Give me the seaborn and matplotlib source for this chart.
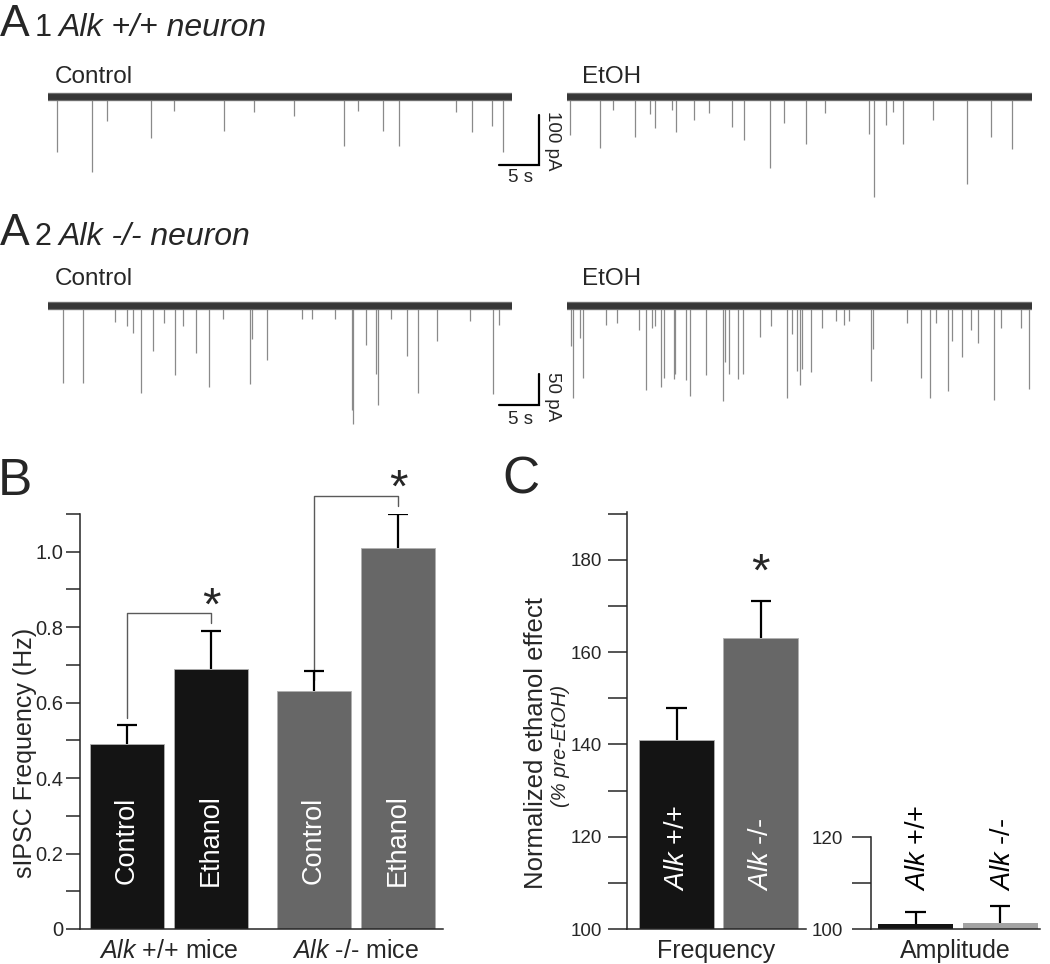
import matplotlib
matplotlib.use("Agg")
import matplotlib.pyplot as plt
import seaborn as sns
import pandas as pd
from matplotlib.ticker import MultipleLocator

# ---------------- data ----------------
# Example sIPSC traces: event times (s) and peak amplitudes (pA, downward)
a1_ctrl_t = [1.08, 5.54, 7.33, 12.83, 15.75, 22.04, 25.75, 30.79, 37.0, 38.79,
             41.92, 43.88, 50.96, 52.96, 55.46, 56.92]
a1_ctrl_amp = [110, 149, 47, 82, 27, 67, 29, 37, 97, 27, 67, 97, 29, 70, 57, 109]

a1_etoh_t = [0.38, 4.13, 5.71, 8.5, 10.38, 11.0, 13.08, 13.58, 15.88, 17.75,
             20.58, 22.04, 25.38, 27.04, 29.83, 32.13, 37.67, 38.29, 39.75, 40.71,
             41.96, 45.67, 49.88, 52.88, 55.5]
a1_etoh_amp = [76, 101, 25, 79, 33, 61, 26, 69, 46, 31,
               59, 86, 141, 51, 93, 31, 73, 199, 55, 29,
               94, 46, 173, 79, 103]

a2_ctrl_t = [1.83, 4.42, 8.38, 9.83, 10.58, 11.58, 13.17, 14.54, 15.88, 16.92,
             18.5, 20.17, 21.83, 25.25, 25.54, 27.33, 31.71, 32.96, 35.88, 37.96,
             38.17, 39.71, 41.0, 41.21, 42.83, 44.92, 46.21, 48.67, 52.75, 55.67, 56.38]
a2_ctrl_amp = [124, 124, 26, 32, 43, 141, 73, 27, 111, 33,
               76, 131, 21, 125, 54, 87, 21, 21, 21, 167,
               190, 63, 110, 159, 21, 80, 140, 56, 24, 142, 30]

a2_etoh_t = [0.46, 0.79, 1.63, 2.04, 4.88, 6.21, 8.92, 9.88, 10.58, 11.0,
             11.71, 12.04, 13.29, 13.5, 14.83, 15.38, 17.33, 19.42, 19.75, 20.17,
             21.29, 21.96, 24.13, 25.46, 27.38, 28.08, 28.63, 29.04, 29.33, 30.46,
             31.83, 33.5, 34.54, 35.17, 37.88, 38.21, 42.46, 44.13, 45.29, 46.0,
             47.54, 48.08, 49.21, 50.38, 51.21, 53.29, 54.13, 56.63, 57.67]
a2_etoh_amp = [65, 149, 51, 116, 30, 27, 38, 136, 35, 32,
               131, 116, 117, 110, 120, 145, 111, 153, 91, 110,
               117, 110, 50, 32, 148, 45, 105, 127, 102, 106,
               35, 24, 30, 24, 121, 70, 27, 116, 149, 27,
               137, 56, 83, 38, 59, 152, 35, 35, 133]

trace_duration = 58  # s

# Panel B: sIPSC frequency (Hz)
genotypes = ["Alk +/+", "Alk -/-"]
conditions = ["Control", "Ethanol"]
freq_genotype = ["Alk +/+", "Alk +/+", "Alk -/-", "Alk -/-"]
freq_condition = ["Control", "Ethanol", "Control", "Ethanol"]
freq_mean = [0.49, 0.69, 0.63, 1.01]
freq_sem = [0.05, 0.10, 0.055, 0.09]

# Panel C: normalized ethanol effect (% pre-EtOH)
effect_freq_mean = [141, 163]
effect_freq_sem = [7, 8]
effect_amp_mean = [101.0, 101.4]
effect_amp_sem = [2.7, 3.7]

# ---------------- style ----------------
sns.set_theme(style="ticks")
plt.rcParams["font.family"] = ["Liberation Sans", "DejaVu Sans"]
plt.rcParams["mathtext.fontset"] = "custom"
plt.rcParams["mathtext.rm"] = "Liberation Sans"
plt.rcParams["mathtext.it"] = "Liberation Sans:italic"
plt.rcParams["axes.linewidth"] = 1.1

W, H = 1050, 964
fig = plt.figure(figsize=(W / 100, H / 100), dpi=100)


def rect(x0, y0, x1, y1):
    return [x0 / W, 1 - y1 / H, (x1 - x0) / W, (y1 - y0) / H]


def ftext(x, y, s, **kw):
    fig.text(x / W, 1 - y / H, s, **kw)


BAND = "#363636"
BAND_EDGE = "#6e6e6e"
EVT = "#8a8a8a"
BLACK = "#141414"
GRAY = "#676767"
LIGHT = "#a3a3a3"


def draw_trace(ax, t, amp, ylim):
    ax.vlines(t, [-a for a in amp], 0, color=EVT, lw=0.9, zorder=1)
    sns.lineplot(x=[0, trace_duration], y=[0, 0], ax=ax, color=BAND_EDGE, lw=6.0, zorder=2)
    sns.lineplot(x=[0, trace_duration], y=[0, 0], ax=ax, color=BAND, lw=4.2, zorder=3)
    ax.set_xlim(0, trace_duration)
    ax.set_ylim(*ylim)
    ax.axis("off")


# ---------- A1 ----------
ylim_a1 = (-206, 74)
ax = fig.add_axes(rect(48, 60, 512, 200))
draw_trace(ax, a1_ctrl_t, a1_ctrl_amp, ylim_a1)
# scale bar 5 s / 100 pA
ax.plot([56.4, 61.4, 61.4], [-136, -136, -36], color="black", lw=1.6,
        clip_on=False, solid_joinstyle="miter")
ax = fig.add_axes(rect(567, 60, 1032, 200))
draw_trace(ax, a1_etoh_t, a1_etoh_amp, ylim_a1)

ftext(520, 182, "5 s", fontsize=13.5, ha="center", va="baseline")
ftext(552, 141, "100 pA", fontsize=13.5, ha="center", va="center", rotation=270)

# ---------- A2 ----------
ylim_a2 = (-216, 58)
ax = fig.add_axes(rect(48, 270, 512, 440))
draw_trace(ax, a2_ctrl_t, a2_ctrl_amp, ylim_a2)
ax.plot([56.4, 61.4, 61.4], [-160, -160, -110], color="black", lw=1.6,
        clip_on=False, solid_joinstyle="miter")
ax = fig.add_axes(rect(567, 270, 1032, 440))
draw_trace(ax, a2_etoh_t, a2_etoh_amp, ylim_a2)

ftext(520, 424, "5 s", fontsize=13.5, ha="center", va="baseline")
ftext(552, 397, "50 pA", fontsize=13.5, ha="center", va="center", rotation=270)

# titles
ftext(0, 36, "A", fontsize=32, va="baseline", ha="left")
ftext(35, 36, "1", fontsize=22, va="baseline", ha="left")
ftext(59, 36, "Alk +/+ neuron", fontsize=23, va="baseline", ha="left", style="italic")
ftext(0, 245, "A", fontsize=32, va="baseline", ha="left")
ftext(35, 245, "2", fontsize=22, va="baseline", ha="left")
ftext(59, 245, "Alk -/- neuron", fontsize=23, va="baseline", ha="left", style="italic")
ftext(55, 83, "Control", fontsize=17.5, va="baseline")
ftext(582, 83, "EtOH", fontsize=17.5, va="baseline")
ftext(55, 285, "Control", fontsize=17.5, va="baseline")
ftext(582, 285, "EtOH", fontsize=17.5, va="baseline")

# ---------- B ----------
axb = fig.add_axes(rect(80, 514, 443, 929))
dfb = pd.DataFrame({"genotype": freq_genotype, "condition": freq_condition,
                    "freq": freq_mean})
sns.barplot(data=dfb, x="genotype", y="freq", hue="condition", order=genotypes,
            hue_order=conditions, width=0.898, gap=0.119, errorbar=None,
            legend=False, ax=axb, edgecolor="#b0b0b0", linewidth=0.6)
geno_colors = [BLACK, GRAY]
centers_b = {}
for j, cont in enumerate(axb.containers):
    for i, bar in enumerate(cont):
        bar.set_facecolor(geno_colors[i])
        cx = bar.get_x() + bar.get_width() / 2
        centers_b[(genotypes[i], conditions[j])] = cx
for g, c, m, s in zip(freq_genotype, freq_condition, freq_mean, freq_sem):
    cx = centers_b[(g, c)]
    axb.vlines(cx, m, m + s, color="black", lw=1.6, zorder=5)
    axb.hlines(m + s, cx - 0.053, cx + 0.053, color="black", lw=1.6, zorder=5)
    axb.text(cx, 0.236, c, rotation=90, color="white", fontsize=19.5,
             ha="center", va="center")
axb.set_xlim(-0.476, 1.465)
axb.set_ylim(0, 1.1)
axb.set_yticks([0, 0.2, 0.4, 0.6, 0.8, 1.0])
axb.set_yticklabels(["0", "0.2", "0.4", "0.6", "0.8", "1.0"])
axb.yaxis.set_minor_locator(MultipleLocator(0.1))
axb.tick_params(axis="y", which="both", length=10, width=1.1, pad=2,
                labelsize=14.5, direction="out")
axb.tick_params(axis="x", length=0, pad=7, labelsize=18)
axb.set_xticks([0, 1])
axb.set_xticklabels([r"$\mathit{Alk}$ +/+ mice", r"$\mathit{Alk}$ -/- mice"])
axb.set_xlabel("")
axb.set_ylabel("sIPSC Frequency (Hz)", fontsize=18)
axb.yaxis.set_label_coords(-0.118, 0.424)
sns.despine(ax=axb)

# significance brackets
br = dict(color="#5a5a5a", lw=1.0, clip_on=False, zorder=4)
x1, x2 = centers_b[("Alk +/+", "Control")], centers_b[("Alk +/+", "Ethanol")]
axb.plot([x1, x1, x2, x2], [0.56, 0.838, 0.838, 0.81], **br)
axb.text(x2, 0.82, "*", fontsize=34, ha="center", va="baseline")
x1, x2 = centers_b[("Alk -/-", "Control")], centers_b[("Alk -/-", "Ethanol")]
axb.plot([x1, x1, x2, x2], [0.66, 1.148, 1.148, 1.12], **br)
axb.text(x2, 1.133, "*", fontsize=34, ha="center", va="baseline", clip_on=False)

ftext(-2, 495, "B", fontsize=37, va="baseline")

# ---------- C: frequency ----------
axc = fig.add_axes(rect(627, 512, 806, 929))
dfc = pd.DataFrame({"genotype": genotypes, "effect": effect_freq_mean})
sns.barplot(data=dfc, x="genotype", y="effect", order=genotypes, width=0.89,
            errorbar=None, ax=axc, edgecolor="#b0b0b0", linewidth=0.6)
for i, bar in enumerate(axc.patches):
    bar.set_facecolor(geno_colors[i])
    cx = bar.get_x() + bar.get_width() / 2
    m, s = effect_freq_mean[i], effect_freq_sem[i]
    axc.vlines(cx, m, m + s, color="black", lw=1.6, zorder=5)
    axc.hlines(m + s, cx - 0.12, cx + 0.12, color="black", lw=1.6, zorder=5)
    axc.text(cx, 108.3, r"$\mathit{Alk}$" + genotypes[i][3:], rotation=90,
             color="white", fontsize=19.5, ha="center", va="bottom")
axc.text(1, 174.4, "*", fontsize=34, ha="center", va="baseline")
axc.set_xlim(-0.59, 1.54)
axc.set_ylim(100, 190.4)
axc.set_yticks([100, 120, 140, 160, 180])
axc.yaxis.set_minor_locator(MultipleLocator(10))
axc.tick_params(axis="y", which="both", length=14, width=1.1, pad=4,
                labelsize=13.5)
axc.set_xticks([])
axc.set_xlabel("Frequency", fontsize=18, labelpad=7)
axc.set_ylabel("")
sns.despine(ax=axc)

ftext(536, 743, "Normalized ethanol effect", fontsize=18.5, rotation=90,
      ha="center", va="center")
ftext(561, 746, "(% pre-EtOH)", fontsize=14.5, rotation=90, style="italic",
      ha="center", va="center")
ftext(502, 494, "C", fontsize=37, va="baseline")

# ---------- C: amplitude ----------
axa = fig.add_axes(rect(871, 837, 1040, 929))
dfa = pd.DataFrame({"genotype": genotypes, "effect": effect_amp_mean})
sns.barplot(data=dfa, x="genotype", y="effect", order=genotypes, width=0.888,
            errorbar=None, ax=axa, linewidth=0)
amp_colors = [BLACK, LIGHT]
for i, bar in enumerate(axa.patches):
    bar.set_facecolor(amp_colors[i])
    cx = bar.get_x() + bar.get_width() / 2
    m, s = effect_amp_mean[i], effect_amp_sem[i]
    axa.vlines(cx, m, m + s, color="black", lw=1.6, zorder=5)
    axa.hlines(m + s, cx - 0.12, cx + 0.12, color="black", lw=1.6, zorder=5)
    axa.text(cx + 0.03, 108.3, r"$\mathit{Alk}$" + genotypes[i][3:], rotation=90,
             color="black", fontsize=19.5, ha="center", va="bottom", clip_on=False)
axa.set_xlim(-0.527, 1.47)
axa.set_ylim(100, 120)
axa.set_yticks([100, 120])
axa.yaxis.set_minor_locator(MultipleLocator(10))
axa.tick_params(axis="y", which="both", length=14, width=1.1, pad=6,
                labelsize=13.5)
axa.set_xticks([])
axa.set_xlabel("Amplitude", fontsize=18, labelpad=7)
axa.set_ylabel("")
sns.despine(ax=axa)

fig.savefig("out.png", dpi=100)
